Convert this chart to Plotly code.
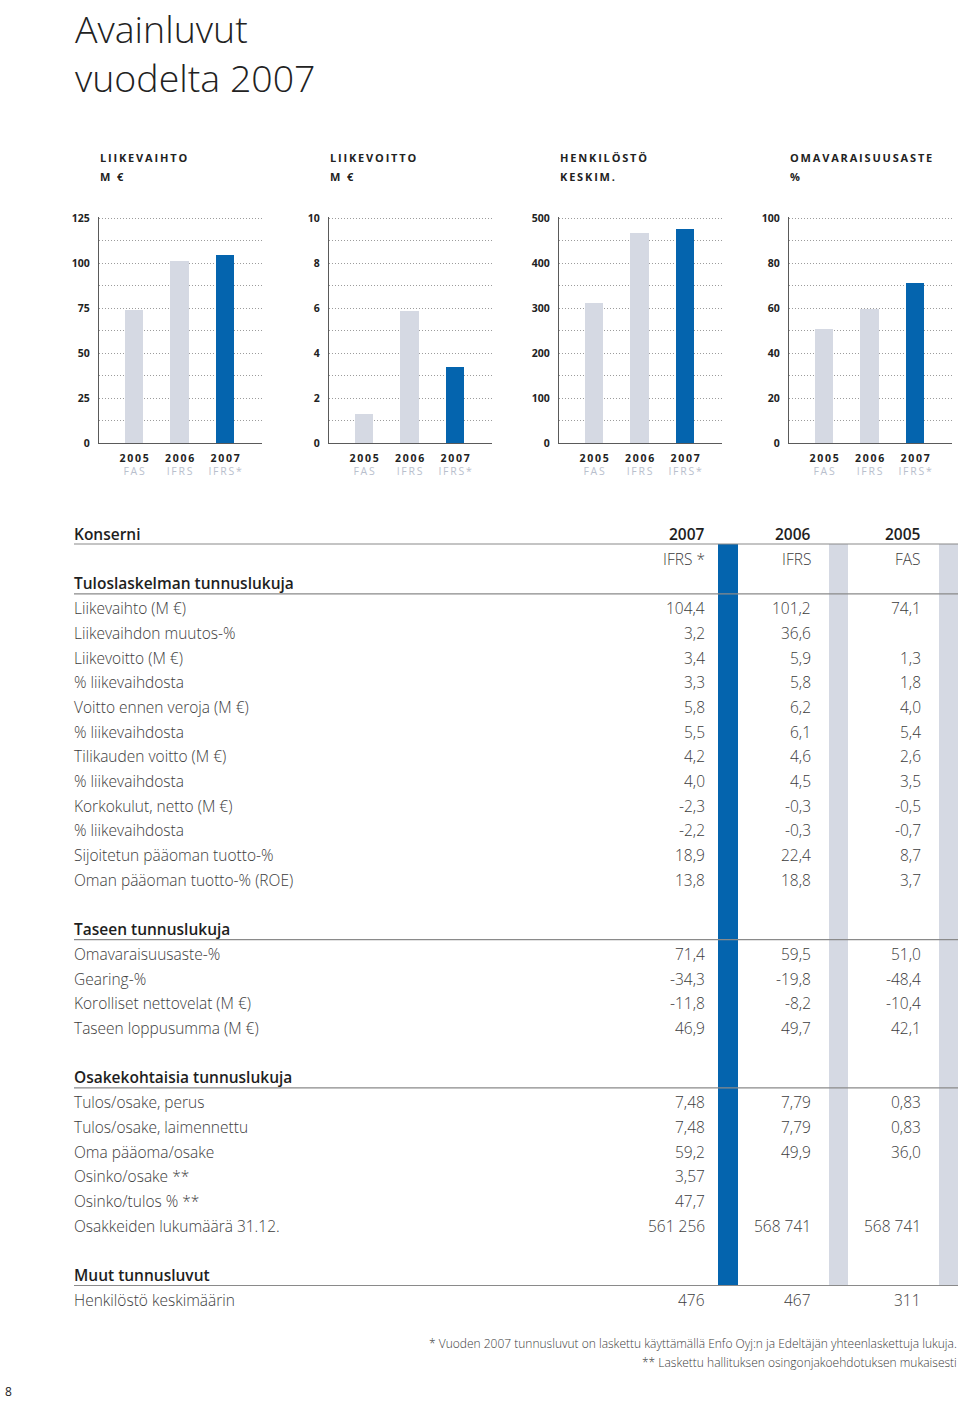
import plotly.graph_objects as go

W, H = 960, 1401

# ---------------- data: bar charts ----------------
years = ["2005", "2006", "2007"]
standards = ["FAS", "IFRS", "IFRS*"]
chart_titles = ["LIIKEVAIHTO", "LIIKEVOITTO", "HENKILÖSTÖ", "OMAVARAISUUSASTE"]
chart_units = ["M €", "M €", "KESKIM.", "%"]
liikevaihto = [74.1, 101.2, 104.4]
liikevoitto = [1.3, 5.9, 3.4]
henkilosto = [311, 467, 476]
omavaraisuusaste = [51.0, 59.5, 71.4]
y_max = [125, 10, 500, 100]
y_step = [25, 2, 100, 20]

# ---------------- data: table ----------------
table_title = "Konserni"
table_years = ["2007", "2006", "2005"]
table_standards = ["IFRS *", "IFRS", "FAS"]

tulos_title = "Tuloslaskelman tunnuslukuja"
tulos_labels = ["Liikevaihto (M €)", "Liikevaihdon muutos-%", "Liikevoitto (M €)", "% liikevaihdosta",
                "Voitto ennen veroja (M €)", "% liikevaihdosta", "Tilikauden voitto (M €)", "% liikevaihdosta",
                "Korkokulut, netto (M €)", "% liikevaihdosta", "Sijoitetun pääoman tuotto-%",
                "Oman pääoman tuotto-% (ROE)"]
tulos_2007 = ["104,4", "3,2", "3,4", "3,3", "5,8", "5,5", "4,2", "4,0", "-2,3", "-2,2", "18,9", "13,8"]
tulos_2006 = ["101,2", "36,6", "5,9", "5,8", "6,2", "6,1", "4,6", "4,5", "-0,3", "-0,3", "22,4", "18,8"]
tulos_2005 = ["74,1", "", "1,3", "1,8", "4,0", "5,4", "2,6", "3,5", "-0,5", "-0,7", "8,7", "3,7"]

tase_title = "Taseen tunnuslukuja"
tase_labels = ["Omavaraisuusaste-%", "Gearing-%", "Korolliset nettovelat (M €)", "Taseen loppusumma (M €)"]
tase_2007 = ["71,4", "-34,3", "-11,8", "46,9"]
tase_2006 = ["59,5", "-19,8", "-8,2", "49,7"]
tase_2005 = ["51,0", "-48,4", "-10,4", "42,1"]

osake_title = "Osakekohtaisia tunnuslukuja"
osake_labels = ["Tulos/osake, perus", "Tulos/osake, laimennettu", "Oma pääoma/osake", "Osinko/osake **",
                "Osinko/tulos % **", "Osakkeiden lukumäärä 31.12."]
osake_2007 = ["7,48", "7,48", "59,2", "3,57", "47,7", "561 256"]
osake_2006 = ["7,79", "7,79", "49,9", "", "", "568 741"]
osake_2005 = ["0,83", "0,83", "36,0", "", "", "568 741"]

muut_title = "Muut tunnusluvut"
muut_labels = ["Henkilöstö keskimäärin"]
muut_2007 = ["476"]
muut_2006 = ["467"]
muut_2005 = ["311"]

footnotes = ["* Vuoden 2007 tunnusluvut on laskettu käyttämällä Enfo Oyj:n ja Edeltäjän yhteenlaskettuja lukuja.",
             "** Laskettu hallituksen osingonjakoehdotuksen mukaisesti"]
page_number = "8"
title_lines = ["Avainluvut", "vuodelta 2007"]

# ---------------- styles ----------------
GREY = "#d5d9e3"
BLUE = "#0464ae"
FONT = "Open Sans"
DARK = "#1e1e1e"
BODY = "#3c3c3c"
GRID = "#9c9c9c"

def ls(s):
    return "\u2009".join(list(s))

fig = go.Figure()

series = [liikevaihto, liikevoitto, henkilosto, omavaraisuusaste]
tick_text = ["<b>%s</b><br><span style='color:#b9c0cd'>%s</span>" % (ls(y), ls(s)) for y, s in zip(years, standards)]

EXT = 1.006  # tiny headroom so the top gridline is drawn
for k in range(4):
    ax0 = 99 + 230 * k
    n = "" if k == 0 else str(k + 1)
    fig.add_trace(go.Bar(
        x=[0, 1, 2], y=series[k], width=0.41,
        marker=dict(color=[GREY, GREY, BLUE], line=dict(width=0)),
        xaxis="x" + n, yaxis="y" + n, showlegend=False, hoverinfo="skip"))
    fig.layout["xaxis" + n] = dict(
        domain=[ax0 / W, (ax0 + 163) / W], range=[-0.77, 2.81], anchor="y" + n,
        tickvals=[0, 1, 2], ticktext=tick_text, showgrid=False, zeroline=False,
        showline=True, linecolor="#5a5a5a", linewidth=1.2, ticks="", ticklabelstandoff=5,
        tickfont=dict(family=FONT, size=10.5, color="#222"), fixedrange=True, automargin=False)
    fig.layout["yaxis" + n] = dict(
        domain=[1 - 443 / H, 1 - (443 - 225 * EXT) / H], range=[0, y_max[k] * EXT], anchor="x" + n,
        tickvals=[y_step[k] * i for i in range(6)], showgrid=True, gridcolor=GRID,
        griddash="1px,2px", gridwidth=1, zeroline=False, showline=True, linecolor="#5a5a5a",
        linewidth=1.2, ticks="", ticklabelstandoff=6,
        tickfont=dict(family=FONT, size=10.5, color="#222", weight="bold"),
        minor=dict(dtick=y_step[k] / 2, showgrid=True, gridcolor=GRID, griddash="1px,2px", gridwidth=1),
        fixedrange=True, automargin=False)

# overlay axis in page pixel units for the table and texts
fig.add_trace(go.Scatter(x=[0], y=[0], mode="markers", marker=dict(opacity=0),
                         xaxis="x5", yaxis="y5", showlegend=False, hoverinfo="skip"))
fig.layout["xaxis5"] = dict(domain=[0, 1], range=[0, W], visible=False, anchor="y5", fixedrange=True,
                            automargin=False)
fig.layout["yaxis5"] = dict(domain=[0, 1], range=[H, 0], visible=False, anchor="x5", fixedrange=True,
                            automargin=False)

ann = []
shapes = []

def txt(x, y, s, size, color, weight=300, xanchor="left", yanchor="middle"):
    ann.append(dict(x=x, y=y, xref="x5", yref="y5", text=s, showarrow=False, xanchor=xanchor,
                    yanchor=yanchor, align="left", font=dict(family=FONT, size=size, color=color, weight=weight)))

# page title (two lines in one text block)
txt(73, 0.5, "<br>".join(title_lines), 37.5, "#222", 300, yanchor="top")

# chart titles
for k in range(4):
    ax0 = 99 + 230 * k
    txt(ax0 - 1, 157, ls(chart_titles[k]), 11, "#222", 700)
    txt(ax0 - 1, 176, ls(chart_units[k]), 11, "#222", 700)

# table
LEFT, RIGHT = 74, 958
TEXT_LEFT = 72
col_x = [707, 813, 923]
stripes = [(718, 738, BLUE), (829, 848, GREY), (939, 958, GREY)]
PITCH = 24.7
Y0 = 534

def row_y(i):
    return Y0 + PITCH * i

for x0, x1, c in stripes:
    shapes.append(dict(type="rect", xref="x5", yref="y5", x0=x0, x1=x1, y0=544, y1=1286,
                       fillcolor=c, line=dict(width=0), layer="below"))

def hline(y):
    shapes.append(dict(type="line", xref="x5", yref="y5", x0=LEFT, x1=RIGHT, y0=y, y1=y,
                       line=dict(color="#8a8a8a", width=1.2)))

BSIZE, SIZE = 15.5, 15.5
txt(TEXT_LEFT, row_y(0), table_title, BSIZE, DARK, 600)
for c in range(3):
    txt(col_x[c], row_y(0), table_years[c], BSIZE, DARK, 600, "right")
    txt(col_x[c], row_y(1), table_standards[c], SIZE, BODY, 300, "right")
hline(row_y(0) + 10)

blocks = [
    (2, tulos_title, tulos_labels, [tulos_2007, tulos_2006, tulos_2005]),
    (16, tase_title, tase_labels, [tase_2007, tase_2006, tase_2005]),
    (22, osake_title, osake_labels, [osake_2007, osake_2006, osake_2005]),
    (30, muut_title, muut_labels, [muut_2007, muut_2006, muut_2005]),
]
for start, title, labels, cols in blocks:
    txt(TEXT_LEFT, row_y(start), title, BSIZE, DARK, 600)
    hline(row_y(start) + 10.5)
    for j, lab in enumerate(labels):
        y = row_y(start + 1 + j)
        txt(TEXT_LEFT, y, lab, SIZE, BODY, 300)
        for c in range(3):
            if cols[c][j]:
                txt(col_x[c], y, cols[c][j], SIZE, BODY, 300, "right")

# footnotes
txt(959, 1343, footnotes[0], 12, BODY, 300, "right")
txt(959, 1362, footnotes[1], 12, BODY, 300, "right")
txt(3, 1391, page_number, 12, "#222", 400)

fig.update_layout(width=W, height=H, margin=dict(l=0, r=0, t=0, b=0, pad=0, autoexpand=False),
                  paper_bgcolor="white", plot_bgcolor="rgba(0,0,0,0)",
                  annotations=ann, shapes=shapes, bargap=0, showlegend=False)
fig.write_html("out.html", config={"displayModeBar": False},
               post_script="document.documentElement.style.margin='0';document.body.style.margin='0';"
                           "document.documentElement.style.overflow='hidden';document.body.style.overflow='hidden';")
